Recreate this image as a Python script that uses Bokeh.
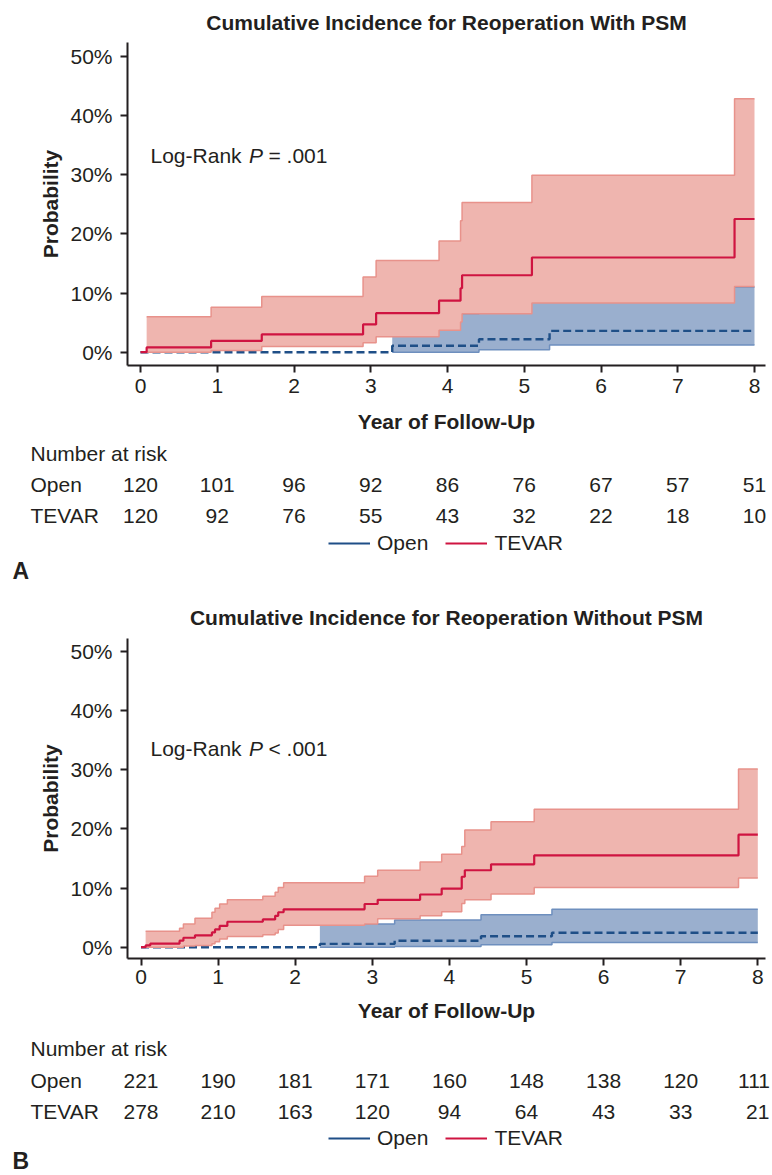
import numpy as np
from bokeh.plotting import figure
from bokeh.models import Range1d, FixedTicker, PrintfTickFormatter, Label, Legend, LegendItem
from bokeh.layouts import column
from bokeh.embed import file_html
from bokeh.resources import INLINE

# ---------------- data ----------------
years = [0, 1, 2, 3, 4, 5, 6, 7, 8]
y_ticks = [0, 10, 20, 30, 40, 50]

# Panel A: with PSM (percent)
a_open_t = [0, 3.28, 4.41, 5.33, 8.0]
a_open_est = [0, 1.1, 2.2, 3.6, 3.6]
a_open_lo = [0, 0.0, 0.4, 1.2, 1.2]
a_open_hi = [0, 6.5, 9.0, 11.0, 11.0]

a_tev_t = [0, 0.08, 0.92, 1.58, 2.90, 3.07, 3.89, 4.17, 4.19, 5.10, 7.74, 8.0]
a_tev_est = [0, 0.8, 1.9, 3.0, 4.7, 6.6, 8.7, 10.8, 13.0, 16.0, 22.5, 22.5]
a_tev_lo = [0, 0.0, 0.3, 0.95, 1.6, 2.6, 3.7, 5.1, 6.5, 8.3, 11.1, 11.1]
a_tev_hi = [0, 6.0, 7.6, 9.4, 12.7, 15.5, 18.8, 22.2, 25.3, 29.9, 42.8, 42.8]

a_risk_open = [120, 101, 96, 92, 86, 76, 67, 57, 51]
a_risk_tev = [120, 92, 76, 55, 43, 32, 22, 18, 10]

# Panel B: without PSM (percent)
b_open_t = [0, 2.32, 3.29, 4.41, 5.33, 8.0]
b_open_est = [0, 0.56, 1.1, 1.85, 2.45, 2.45]
b_open_lo = [0, 0.0, 0.1, 0.4, 0.8, 0.8]
b_open_hi = [0, 3.9, 4.6, 5.5, 6.4, 6.4]

b_tev_t = [0, 0.06, 0.12, 0.50, 0.55, 0.70, 0.92, 0.96, 1.02, 1.12, 1.58, 1.74,
           1.78, 1.85, 2.90, 3.07, 3.62, 3.90, 4.16, 4.20, 4.54, 5.10, 7.75, 8.0]
b_tev_est = [0, 0.3, 0.6, 1.1, 1.6, 2.0, 2.5, 3.0, 3.6, 4.3, 4.7, 5.3,
             5.9, 6.4, 7.3, 8.0, 8.9, 9.9, 11.9, 13.0, 14.0, 15.5, 19.0, 19.0]
b_tev_lo = [0, 0, 0, 0, 0.2, 0.3, 0.6, 0.9, 1.4, 1.8, 2.1, 2.4,
            3.0, 3.7, 3.9, 4.8, 5.3, 6.0, 7.4, 8.0, 9.0, 10.1, 11.7, 11.7]
b_tev_hi = [0, 2.7, 2.7, 3.2, 3.9, 4.9, 5.9, 6.6, 7.3, 8.0, 8.6, 9.3,
            10.1, 10.9, 12.0, 13.0, 14.4, 15.7, 17.0, 19.8, 21.2, 23.3, 30.1, 30.1]

b_risk_open = [221, 190, 181, 171, 160, 148, 138, 120, 111]
b_risk_tev = [278, 210, 163, 120, 94, 64, 43, 33, 21]

groups = ["Open", "TEVAR"]

# ---------------- style ----------------
FONT = "Liberation Sans"
INK = "#231f20"
RED = "#cf1441"
RED_FILL = "#efb5af"
RED_EDGE = "#e8928b"
BLUE = "#1f4f87"
BLUE_FILL = "#9aafce"
BLUE_EDGE = "#6e8fbe"
FS = "21px"
FS_PX = 21
W = 772
FRAME_L, FRAME_R = 127, 765


def steps(t, v):
    t = np.asarray(t, float)
    v = np.asarray(v, float)
    return np.repeat(t, 2)[1:], np.repeat(v, 2)[:-1]


def km_panel(title, sym, o_t, o_est, o_lo, o_hi, t_t, t_est, t_lo, t_hi,
             r_open, r_tev, letter,
             fig_top, fig_h, frame_top, frame_bot, x0, ppy, y0, ppp,
             title_mid, tick_standoff, xlabel_off, rows, legend_mid, letter_mid):
    fig_bot = fig_top + fig_h

    def xd(px):  # page pixel -> years
        return (px - x0) / ppy

    def yd(py):  # page pixel -> percent
        return (y0 - py) / ppp

    p = figure(width=W, height=fig_h, output_backend="svg", toolbar_location=None,
               x_range=Range1d(xd(0), xd(W)), y_range=Range1d(yd(fig_bot), yd(fig_top)),
               min_border=0, min_border_left=0, min_border_right=0,
               min_border_top=0, min_border_bottom=0)
    p.title.visible = False
    p.outline_line_color = None
    p.grid.visible = False
    p.background_fill_color = "white"
    p.border_fill_color = "white"

    for ax in (p.xaxis[0], p.yaxis[0]):
        ax.axis_line_color = INK
        ax.axis_line_width = 2
        ax.major_tick_line_color = INK
        ax.major_tick_line_width = 2
        ax.major_tick_out = 7
        ax.major_tick_in = 0
        ax.minor_tick_line_color = None
        ax.major_label_text_font = FONT
        ax.major_label_text_font_size = FS
        ax.major_label_text_color = INK
    p.xaxis.ticker = FixedTicker(ticks=years)
    p.yaxis.ticker = FixedTicker(ticks=y_ticks)
    p.yaxis.formatter = PrintfTickFormatter(format="%d%%")
    p.xaxis.fixed_location = yd(frame_bot)
    p.yaxis.fixed_location = xd(FRAME_L)
    p.xaxis.bounds = (xd(FRAME_L), xd(FRAME_R))
    p.yaxis.bounds = (yd(frame_bot), yd(frame_top))
    p.xaxis.major_label_standoff = tick_standoff
    p.yaxis.major_label_standoff = 8

    # Open band + curve
    bx, blo = steps(o_t[1:], o_lo[1:])
    _, bhi = steps(o_t[1:], o_hi[1:])
    p.varea(x=bx, y1=blo, y2=bhi, fill_color=BLUE_FILL, fill_alpha=1)
    p.step(x=o_t[1:], y=o_lo[1:], mode="after", line_color=BLUE_EDGE, line_width=1.5)
    p.step(x=o_t[1:], y=o_hi[1:], mode="after", line_color=BLUE_EDGE, line_width=1.5)
    p.step(x=o_t, y=o_est, mode="after", line_color=BLUE, line_width=2.4, line_dash="8 4")

    # TEVAR band + curve
    rx, rlo = steps(t_t[1:], t_lo[1:])
    _, rhi = steps(t_t[1:], t_hi[1:])
    p.varea(x=rx, y1=rlo, y2=rhi, fill_color=RED_FILL, fill_alpha=1)
    p.step(x=t_t[1:], y=t_lo[1:], mode="after", line_color=RED_EDGE, line_width=1.5)
    p.step(x=t_t[1:], y=t_hi[1:], mode="after", line_color=RED_EDGE, line_width=1.5)
    p.step(x=t_t, y=t_est, mode="after", line_color=RED, line_width=2.2)

    def lab(x, py, text, xu="screen", align="left", style="normal", size=FS,
            angle=0.0, x_offset=0.0):
        p.add_layout(Label(x=x, y=fig_bot - py, x_units=xu, y_units="screen", text=text,
                           text_font=FONT, text_font_size=size, text_font_style=style,
                           text_color=INK, text_baseline="middle", text_align=align,
                           angle=angle, x_offset=x_offset))

    # title and axis titles
    lab((FRAME_L + FRAME_R) / 2, title_mid, title, align="center", style="bold")
    lab((FRAME_L + FRAME_R) / 2, frame_bot + xlabel_off, "Year of Follow-Up",
        align="center", style="bold")
    lab(50, (frame_top + frame_bot) / 2, "Probability", align="center", style="bold",
        angle=np.pi / 2)

    # Log-rank annotation
    for txt, px, style in (("Log-Rank", 150, "normal"), ("P", 248.5, "italic"),
                           (sym + " .001", 268, "normal")):
        lab(px, frame_bot - 210, txt, style=style)

    # Number-at-risk table
    def num(yr, ry, n):
        s = str(n)
        half = len(s) * 0.556 * FS_PX / 2
        right = x0 + yr * ppy + half
        off = min(0.0, (W - 1) - right)  # keep the text inside the page
        lab(yr, ry, s, xu="data", align="center", x_offset=off)

    for txt, ry in zip(["Number at risk"] + groups, rows):
        lab(30, ry, txt)
    for yr, n in zip(years, r_open):
        num(yr, rows[1], n)
    for yr, n in zip(years, r_tev):
        num(yr, rows[2], n)
    lab(12, letter_mid, letter, style="bold", size="23px")

    # legend (proxy renderers without visible data)
    ro = p.line(x=[np.nan], y=[np.nan], line_color=BLUE, line_width=2)
    rt = p.line(x=[np.nan], y=[np.nan], line_color=RED, line_width=2)
    leg = Legend(items=[LegendItem(label=groups[0], renderers=[ro]),
                        LegendItem(label=groups[1], renderers=[rt])],
                 location=(328, fig_bot - (legend_mid + 10)), orientation="horizontal",
                 border_line_color=None, background_fill_alpha=0,
                 padding=0, margin=0, spacing=17, glyph_width=42, glyph_height=20,
                 label_standoff=7, label_height=20, label_text_font=FONT,
                 label_text_font_size=FS, label_text_color=INK)
    p.add_layout(leg)
    return p


pa = km_panel("Cumulative Incidence for Reoperation With PSM", "=",
              a_open_t, a_open_est, a_open_lo, a_open_hi,
              a_tev_t, a_tev_est, a_tev_lo, a_tev_hi,
              a_risk_open, a_risk_tev, "A",
              fig_top=0, fig_h=585, frame_top=42, frame_bot=365,
              x0=140.0, ppy=76.75, y0=351.7, ppp=5.92,
              title_mid=22, tick_standoff=6, xlabel_off=56,
              rows=[453, 484, 515], legend_mid=545, letter_mid=570)

pb = km_panel("Cumulative Incidence for Reoperation Without PSM", "<",
              b_open_t, b_open_est, b_open_lo, b_open_hi,
              b_tev_t, b_tev_est, b_tev_lo, b_tev_hi,
              b_risk_open, b_risk_tev, "B",
              fig_top=585, fig_h=590, frame_top=638, frame_bot=958,
              x0=140.5, ppy=77.1, y0=946.7, ppp=5.92,
              title_mid=617, tick_standoff=4, xlabel_off=52,
              rows=[1048, 1080, 1111], legend_mid=1140, letter_mid=1160)

layout = column(pa, pb, spacing=0)
open("out.html", "w").write(file_html(layout, INLINE))
